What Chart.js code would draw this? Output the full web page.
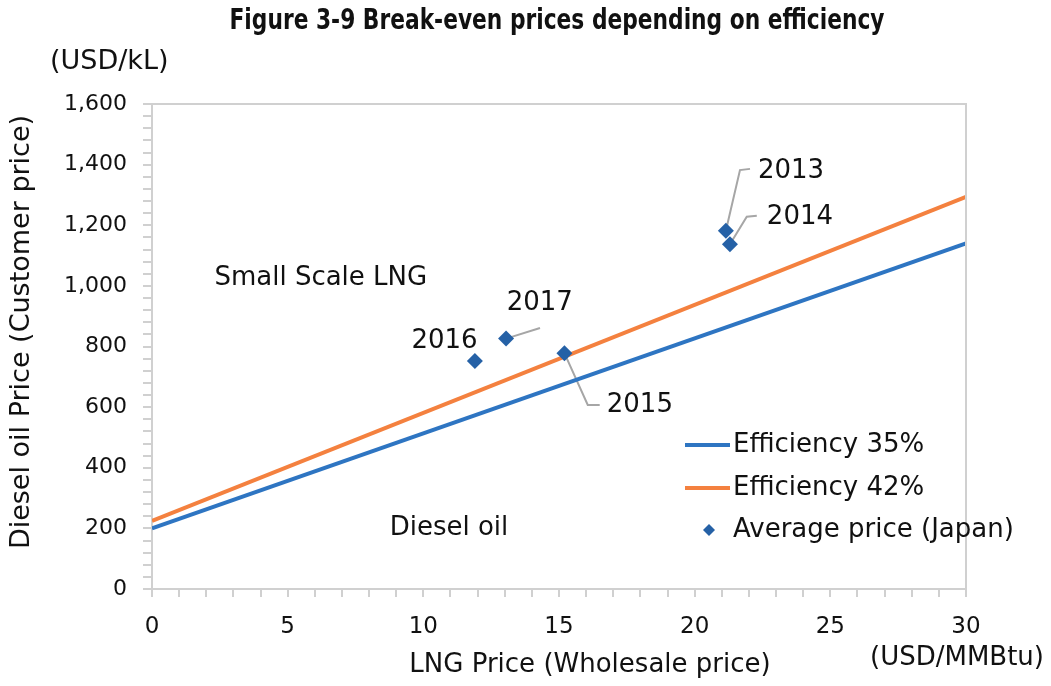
<!DOCTYPE html>
<html>
<head>
<meta charset="utf-8">
<script src="https://cdn.jsdelivr.net/npm/chart.js"></script>
<style>
  html, body { margin: 0; padding: 0; background: #ffffff; }
  #wrap { width: 1051px; height: 686px; }
</style>
</head>
<body>
<div id="wrap"><canvas id="chart" width="1051" height="686"></canvas></div>
<script>
// break-even lines (LNG price -> diesel price)
const lngRange = [0, 30];
const eff35 = [200, 1140];
const eff42 = [225, 1294];

// yearly average prices in Japan
const years = ['2013', '2014', '2015', '2016', '2017'];
const avgLng = [21.15, 21.3, 15.2, 11.9, 13.05];
const avgDiesel = [1182, 1137, 778, 752, 826];

// label anchors for the year callouts (data units)
const yearNotes = [
    { text: '2013', lx: 22.33, ly: 1377, path: [[21.67, 1382], [22.04, 1386]] },
    { text: '2014', lx: 22.66, ly: 1228, path: [[21.92, 1228], [22.29, 1231]] },
    { text: '2015', lx: 16.76, ly: 607, path: [[16.06, 607], [16.5, 607]] },
    { text: '2016', lx: 9.56, ly: 816, path: [] },
    { text: '2017', lx: 13.07, ly: 943, path: [[14.3, 861]] }
];

const xTicksMajor = 5;
const yTicksMajor = 200;

const BLUE = '#2E75C2';
const ORANGE = '#F4813F';
const MARK = '#2561A6';
const AXIS = '#d0d0d0';
const INK = '#111111';
const FONT = '"DejaVu Sans", Verdana, sans-serif';

const overlay = {
    id: 'overlay',
    beforeDatasetsDraw(chart) {
        const { ctx, scales: { x, y } } = chart;
        ctx.save();
        ctx.strokeStyle = '#a6a6a6';
        ctx.lineWidth = 2;
        yearNotes.forEach((n, i) => {
            if (!n.path.length) return;
            ctx.beginPath();
            ctx.moveTo(x.getPixelForValue(avgLng[i]), y.getPixelForValue(avgDiesel[i]));
            n.path.forEach(p => ctx.lineTo(x.getPixelForValue(p[0]), y.getPixelForValue(p[1])));
            ctx.stroke();
        });
        ctx.restore();
    },
    afterDraw(chart) {
        const { ctx, chartArea: a, scales: { x, y } } = chart;
        ctx.save();
        // plot box top / right
        ctx.strokeStyle = AXIS;
        ctx.lineWidth = 2;
        ctx.beginPath();
        ctx.moveTo(a.left, a.top);
        ctx.lineTo(a.right, a.top);
        ctx.lineTo(a.right, a.bottom);
        ctx.stroke();

        ctx.fillStyle = INK;
        ctx.textBaseline = 'middle';

        // title (condensed bold, squeezed to the reference width)
        const title = 'Figure 3-9 Break-even prices depending on efficiency';
        ctx.font = 'bold 28px "Liberation Sans Narrow", "DejaVu Sans Condensed", sans-serif';
        ctx.textAlign = 'center';
        const tw = ctx.measureText(title).width;
        ctx.save();
        ctx.translate(557, 22);
        ctx.scale(Math.min(1, 655 / tw), 1);
        ctx.fillText(title, 0, 0);
        ctx.restore();

        ctx.font = '27px ' + FONT;
        ctx.textAlign = 'left';
        ctx.fillText('(USD/kL)', 50, 62);
        ctx.font = '26px ' + FONT;
        ctx.fillText('(USD/MMBtu)', 870, 658);
        ctx.textAlign = 'center';
        ctx.fillText('LNG Price (Wholesale price)', 590, 665);

        ctx.save();
        ctx.translate(22, 332);
        ctx.rotate(-Math.PI / 2);
        ctx.font = '27px ' + FONT;
        ctx.fillText('Diesel oil Price (Customer price)', 0, 0);
        ctx.restore();

        // region notes
        ctx.font = '26px ' + FONT;
        ctx.textAlign = 'left';
        ctx.fillText('Small Scale LNG', x.getPixelForValue(2.3), y.getPixelForValue(1026));
        ctx.fillText('Diesel oil', x.getPixelForValue(8.76), y.getPixelForValue(201));

        // year labels
        yearNotes.forEach(n => {
            ctx.fillText(n.text, x.getPixelForValue(n.lx), y.getPixelForValue(n.ly));
        });

        // legend
        const lx = a.right - 281, rows = [445, 488, 530];
        ctx.lineWidth = 4;
        [[BLUE, 'Efficiency 35%'], [ORANGE, 'Efficiency 42%']].forEach((it, i) => {
            ctx.strokeStyle = it[0];
            ctx.beginPath();
            ctx.moveTo(lx, rows[i]);
            ctx.lineTo(lx + 45, rows[i]);
            ctx.stroke();
            ctx.fillText(it[1], lx + 48, rows[i]);
        });
        ctx.fillStyle = MARK;
        ctx.beginPath();
        ctx.moveTo(lx + 24, rows[2] - 6);
        ctx.lineTo(lx + 30, rows[2]);
        ctx.lineTo(lx + 24, rows[2] + 6);
        ctx.lineTo(lx + 18, rows[2]);
        ctx.closePath();
        ctx.fill();
        ctx.fillStyle = INK;
        ctx.fillText('Average price (Japan)', lx + 48, rows[2]);
        ctx.restore();
    }
};

new Chart(document.getElementById('chart'), {
    type: 'scatter',
    data: {
        datasets: [
            {
                label: 'Average price (Japan)',
                data: avgLng.map((v, i) => ({ x: v, y: avgDiesel[i] })),
                pointStyle: 'rectRot',
                pointRadius: 8,
                backgroundColor: MARK,
                borderColor: MARK,
                borderWidth: 0,
                order: 0
            },
            {
                label: 'Efficiency 35%',
                data: lngRange.map((v, i) => ({ x: v, y: eff35[i] })),
                showLine: true,
                borderColor: BLUE,
                borderWidth: 4,
                pointRadius: 0,
                order: 1
            },
            {
                label: 'Efficiency 42%',
                data: lngRange.map((v, i) => ({ x: v, y: eff42[i] })),
                showLine: true,
                borderColor: ORANGE,
                borderWidth: 4,
                pointRadius: 0,
                order: 2
            }
        ]
    },
    options: {
        responsive: false,
        animation: false,
        devicePixelRatio: 1,
        layout: { padding: { top: 104, right: 85, left: 0, bottom: 0 } },
        plugins: { legend: { display: false }, tooltip: { enabled: false }, title: { display: false } },
        scales: {
            x: {
                type: 'linear',
                min: 0,
                max: 30,
                afterFit: s => { s.height = 97; },
                ticks: {
                    stepSize: 1,
                    autoSkip: false,
                    maxRotation: 0,
                    padding: 16,
                    color: INK,
                    font: { family: FONT, size: 23 },
                    callback: v => (v % xTicksMajor === 0 ? v : '')
                },
                grid: { drawOnChartArea: false, tickLength: 8, color: AXIS, lineWidth: 2 },
                border: { color: AXIS, width: 2 }
            },
            y: {
                min: 0,
                max: 1600,
                afterFit: s => { s.width = 152; },
                ticks: {
                    stepSize: 40,
                    autoSkip: false,
                    padding: 16,
                    color: INK,
                    font: { family: FONT, size: 22 },
                    callback: v => (v % yTicksMajor === 0 ? v.toLocaleString('en-US') : '')
                },
                grid: { drawOnChartArea: false, tickLength: 9, color: AXIS, lineWidth: 2 },
                border: { color: AXIS, width: 2 }
            }
        }
    },
    plugins: [overlay]
});
</script>
</body>
</html>
